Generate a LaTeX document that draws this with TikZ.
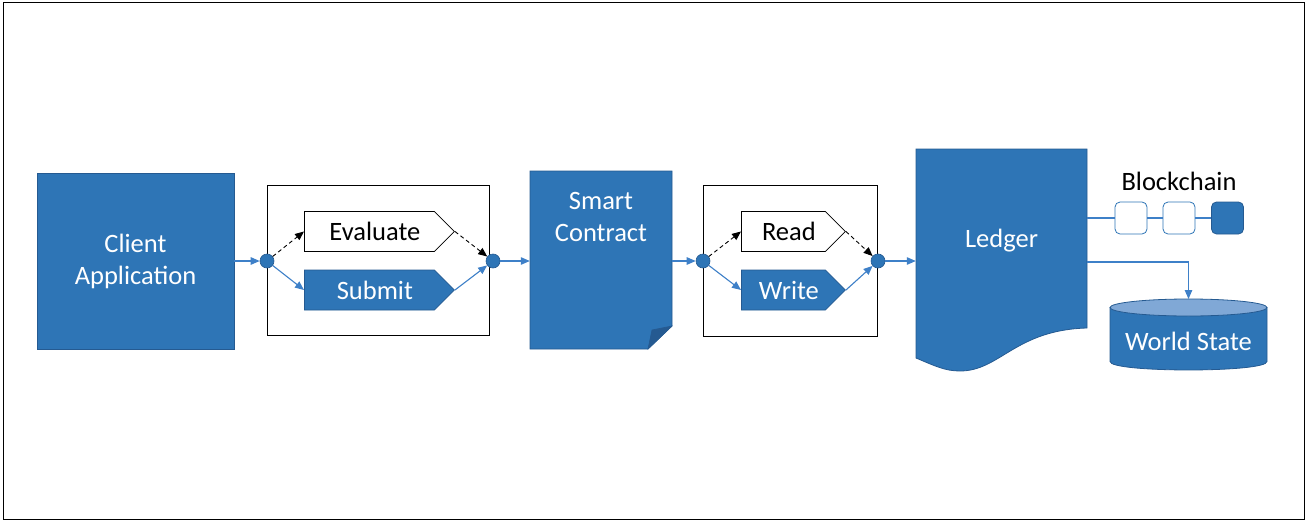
\documentclass[tikz,border=0pt]{standalone}
\usepackage{fontspec}
\setmainfont{Carlito}
\usetikzlibrary{arrows.meta, positioning, shapes.symbols, calc}
\definecolor{hlfblue}{RGB}{46, 117, 182}
\definecolor{hlfedge}{RGB}{37, 90, 145}
\definecolor{hlflight}{RGB}{128, 168, 214}
\definecolor{hlfline}{RGB}{62, 128, 200}

\begin{document}
\begin{tikzpicture}[x=1pt, y=-1pt,
    label font/.style={font=\fontsize{26.5}{32}\selectfont},
    bluebox/.style={fill=hlfblue, draw=hlfedge, line width=0.8pt, text=white, align=center, inner sep=0pt, label font},
    stepsig/.style={signal, signal to=east, signal pointer angle=90, minimum width=#1, minimum height=40,
                    anchor=west, inner sep=0pt, line width=0.8pt, label font},
    junction/.style={circle, fill=hlfblue, draw=hlfedge, line width=0.6pt, minimum size=14, inner sep=0pt},
    choicebox/.style={draw=black, line width=1pt, fill=white, inner sep=0pt},
    chainblk/.style={rounded corners=5pt, minimum size=32, inner sep=0pt, line width=0.8pt},
    flow/.style={draw=hlfline, line width=1.1pt, -{Triangle[length=9pt, width=7.5pt]}},
    maybe/.style={draw=black, line width=0.9pt, dash pattern=on 4pt off 3pt, -{Triangle[length=9pt, width=7.5pt]}}]

  \useasboundingbox (0,0) rectangle (1307,522);
  \draw[line width=1pt] (3,2) rectangle (1304.5,519.5);

  \node[bluebox, minimum width=197, minimum height=176] (client) at (135.5,261) {Client\\Application};

  \node[choicebox, minimum width=222, minimum height=150] (choice1) at (378,260) {};
  \node[stepsig=150, fill=white, draw=black, text=black] (evaluate) at (304,231.5) {\hspace*{11pt}Evaluate};
  \node[stepsig=150, fill=hlfblue, draw=hlfedge, text=white] (submit) at (304,290) {\hspace*{11pt}Submit};
  \node[junction] (fork1) at (267,261) {};
  \node[junction] (fork2) at (493,261) {};

  % smart contract page with folded corner
  \node[minimum width=142, minimum height=178, inner sep=0pt] (contract) at (601,260) {};
  \fill[hlfblue] (530,171) -- (672,171) -- (672,326) -- (648,349) -- (530,349) -- cycle;
  \draw[hlfedge, line width=0.8pt] (530,171) -- (672,171) -- (672,326) -- (648,349) -- (530,349) -- cycle;
  \filldraw[fill=hlfedge, draw=hlfedge, line width=0.6pt] (672,326) -- (652,330) -- (648,349) -- cycle;
  \node[text=white, align=center, inner sep=0pt, label font, below=21pt of contract.north] (contracttext) {Smart\\Contract};

  \node[choicebox, minimum width=174, minimum height=151] (choice2) at (790,260.5) {};
  \node[stepsig=104, fill=white, draw=black, text=black] (read) at (741,231.5) {\hspace*{11pt}Read};
  \node[stepsig=104, fill=hlfblue, draw=hlfedge, text=white] (write) at (741,290) {\hspace*{11pt}Write};
  \node[junction] (fork3) at (703,261) {};
  \node[junction] (fork4) at (878,261) {};

  % ledger document
  \fill[hlfblue] (916,149) -- (1087,149) -- (1087,328)
    .. controls (1015,330) and (1000,371) .. (960,371)
    .. controls (945,371) and (935,366) .. (916,358) -- cycle;
  \draw[hlfedge, line width=0.8pt] (916,149) -- (1087,149) -- (1087,328)
    .. controls (1015,330) and (1000,371) .. (960,371)
    .. controls (945,371) and (935,366) .. (916,358) -- cycle;
  \node[minimum width=171, minimum height=182, inner sep=0pt, text=white, label font] (ledger) at (1001.5,241) {Ledger};

  % blockchain
  \node[chainblk, fill=white, draw=hlfblue] (blk1) at (1131,218) {};
  \node[chainblk, fill=white, draw=hlfblue] (blk2) at (1179,218) {};
  \node[chainblk, fill=hlfblue, draw=hlfedge] (blk3) at (1227.5,218) {};
  \node[label font, inner sep=0pt] (chainlabel) at (1179,181) {Blockchain};

  % world state
  \fill[hlfblue] (1110,307.5) -- (1110,361.5) .. controls (1110,372.8) and (1267,372.8) .. (1267,361.5) -- (1267,307.5) -- cycle;
  \draw[hlfedge, line width=0.8pt] (1110,307.5) -- (1110,361.5) .. controls (1110,372.8) and (1267,372.8) .. (1267,361.5) -- (1267,307.5);
  \filldraw[fill=hlflight, draw=hlfedge, line width=0.8pt] (1188.5,307.5) ellipse [x radius=78.5, y radius=8.5];
  \node[text=white, label font, inner sep=0pt] (world) at (1188.5,341) {World State};
  \coordinate (wstop) at (1188.5,299);
  \coordinate (ledgerout) at (1087,262);

  \draw[flow] (client.east |- fork1) -- (fork1);
  \draw[maybe] (fork1) -- (evaluate.west);
  \draw[flow] (fork1) -- (submit.west);
  \draw[maybe] (evaluate.east) -- (fork2);
  \draw[flow] (submit.east) -- (fork2);
  \draw[flow] (fork2) -- (contract.west |- fork2);
  \draw[flow] (contract.east |- fork3) -- (fork3);
  \draw[maybe] (fork3) -- (read.west);
  \draw[flow] (fork3) -- (write.west);
  \draw[maybe] (read.east) -- (fork4);
  \draw[flow] (write.east) -- (fork4);
  \draw[flow] (fork4) -- (fork4 -| ledger.west);

  \draw[hlfline, line width=1.1pt] (ledger.east |- blk1) -- (blk1) -- (blk2) -- (blk3);
  \draw[flow] (ledgerout) -| (wstop);
\end{tikzpicture}
\end{document}
